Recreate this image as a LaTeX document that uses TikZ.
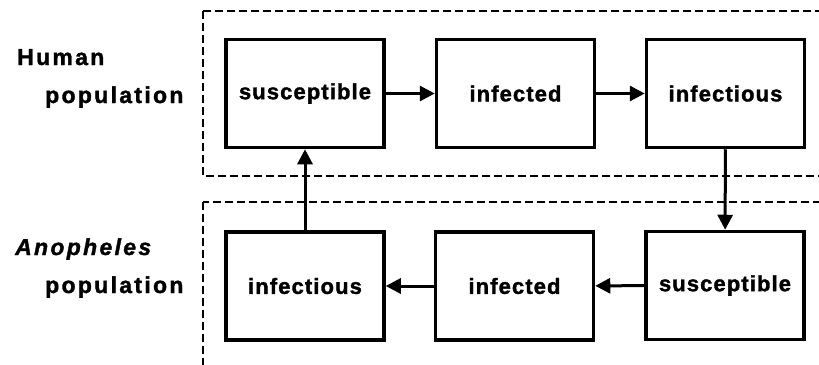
\documentclass[tikz,border=0pt]{standalone}
\usepackage{fontspec}
\setmainfont{Liberation Sans}
\usetikzlibrary{arrows.meta}
\newfontfamily\boxfont[LetterSpace=5,FakeBold=1.5]{Liberation Sans}
\newfontfamily\labfont[LetterSpace=10,FakeBold=1.5]{Liberation Sans}
\tikzset{
  compbox/.style={draw, line width=3.5pt, minimum width=158pt, minimum height=108pt,
    inner sep=0pt, font=\boxfont\bfseries\fontsize{22}{26}\selectfont},
  flow/.style={line width=3pt, -{Triangle[length=15pt,width=15pt]}},
  popframe/.style={draw, line width=1.5pt, dash pattern=on 8pt off 4pt},
  poplabel/.style={anchor=base west, inner sep=0pt, font=\labfont\bfseries\fontsize{23}{27}\selectfont}
}
\begin{document}
\begin{tikzpicture}[x=1pt,y=-1pt]
\useasboundingbox (0,0) rectangle (819,364);
\clip (0,0) rectangle (819,364);
\fill[white] (0,0) rectangle (819,364);
\draw[popframe] (203,11) rectangle (840,176);
\draw[popframe] (203,202) rectangle (840,390);
\node[compbox] (hs) at (305,93.5) {susceptible};
\node[compbox] (hi) at (515.5,93.5) {infected};
\node[compbox] (hf) at (725.5,93.5) {infectious};
\node[compbox] (mf) at (305,286) {infectious};
\node[compbox] (mi) at (514.5,286) {infected};
\node[compbox] (ms) at (725,285.5) {susceptible};
\node[poplabel] (l1) at (17,65) {Human};
\node[poplabel] (l2) at (45,103) {population};
\node[poplabel, font=\labfont\bfseries\itshape\fontsize{23}{27}\selectfont] (l3) at (15,255) {Anopheles};
\node[poplabel] (l4) at (45,293) {population};
\draw[flow] (hs) -- (hi);
\draw[flow] (hi) -- (hf);
\draw[flow] (hf) -- (ms);
\draw[flow] (ms) -- (mi);
\draw[flow] (mi) -- (mf);
\draw[flow] (mf) -- (hs);
\end{tikzpicture}
\end{document}
